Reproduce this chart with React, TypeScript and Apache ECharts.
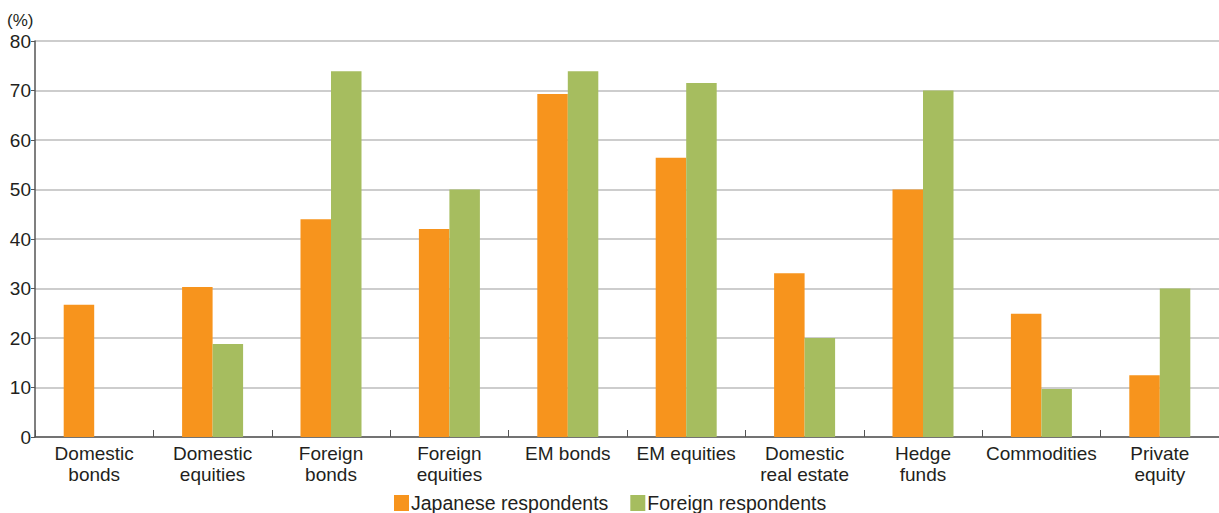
import React, { useEffect, useRef } from "react";
import * as echarts from "echarts";

const categories = [
  "Domestic\nbonds",
  "Domestic\nequities",
  "Foreign\nbonds",
  "Foreign\nequities",
  "EM bonds",
  "EM equities",
  "Domestic\nreal estate",
  "Hedge\nfunds",
  "Commodities",
  "Private\nequity",
];
const japanese = [26.7, 30.3, 44.0, 42.0, 69.3, 56.4, 33.1, 50.0, 24.9, 12.5];
const foreign = [0, 18.8, 73.9, 50.0, 73.9, 71.5, 20.0, 70.0, 9.7, 30.0];
const seriesNames = ["Japanese respondents", "Foreign respondents"];
const yTicks = [0, 10, 20, 30, 40, 50, 60, 70, 80];

const FONT = "'Liberation Sans', Arial, sans-serif";
const TEXT = "#231f20";

export default function App() {
  const ref = useRef<HTMLDivElement>(null);
  useEffect(() => {
    if (!ref.current) return;
    const chart = echarts.init(ref.current, null, { renderer: "svg" });
    chart.setOption({
      animation: false,
      textStyle: { fontFamily: FONT },
      grid: { left: 35, top: 41, width: 1187, height: 396 },
      graphic: [
        {
          type: "text",
          left: 7,
          top: 12,
          style: { text: "(%)", fontSize: 17, fill: TEXT, fontFamily: FONT },
        },
      ],
      legend: {
        top: 493,
        left: 394,
        padding: 0,
        itemWidth: 15,
        itemHeight: 16,
        itemGap: 22,
        icon: "rect",
        textStyle: {
          fontSize: 19.5,
          lineHeight: 19,
          color: TEXT,
          fontFamily: FONT,
          padding: [0, 0, 0, -3],
        },
        data: seriesNames,
      },
      xAxis: {
        type: "category",
        data: categories,
        axisLine: { lineStyle: { color: "#555", width: 1.5 } },
        axisTick: { show: true, inside: true, length: 7, lineStyle: { color: "#555" } },
        axisLabel: {
          fontSize: 19,
          color: TEXT,
          lineHeight: 21,
          margin: 6,
          interval: 0,
          fontFamily: FONT,
        },
      },
      yAxis: {
        type: "value",
        min: yTicks[0],
        max: yTicks[yTicks.length - 1],
        interval: 10,
        axisLine: { show: true, lineStyle: { color: "#555", width: 1.5 } },
        axisTick: { show: true, length: 4, lineStyle: { color: "#555" } },
        splitLine: { lineStyle: { color: "#bdbdbd", width: 1.5 } },
        axisLabel: { fontSize: 19, color: TEXT, margin: 4, fontFamily: FONT },
      },
      series: [
        {
          name: seriesNames[0],
          type: "bar",
          data: japanese,
          barWidth: 30.5,
          barGap: "0%",
          itemStyle: { color: "#F7941D" },
        },
        {
          name: seriesNames[1],
          type: "bar",
          data: foreign,
          barWidth: 30.5,
          barGap: "0%",
          itemStyle: { color: "#A6BD5F" },
        },
      ],
    });
    return () => chart.dispose();
  }, []);
  return (
    <div
      ref={ref}
      style={{ position: "fixed", left: 0, top: 0, width: 1219, height: 513, background: "#fff" }}
    />
  );
}
